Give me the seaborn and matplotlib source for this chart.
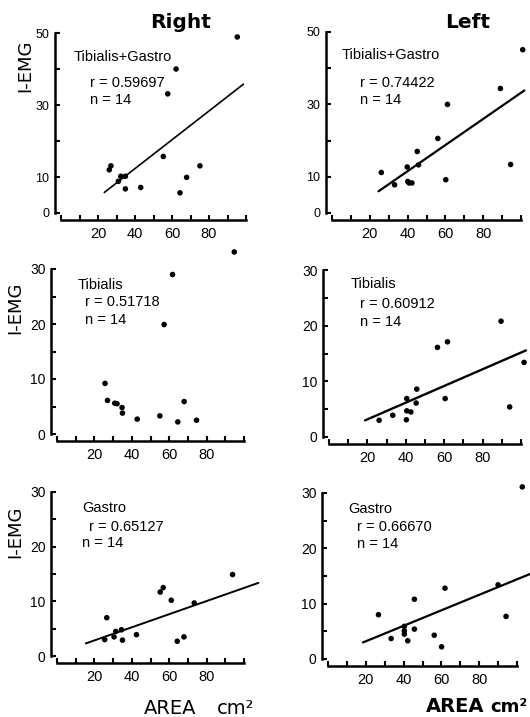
import matplotlib
matplotlib.use("Agg")
import matplotlib.pyplot as plt
import seaborn as sns

sns.set_theme(style="ticks")
plt.rcParams["font.family"] = ["Liberation Sans", "DejaVu Sans"]
plt.rcParams["text.color"] = "black"
plt.rcParams["axes.labelcolor"] = "black"
plt.rcParams["xtick.color"] = "black"
plt.rcParams["ytick.color"] = "black"

# ---- data: muscle cross-sectional area (cm^2) vs integrated EMG ----
right_tg_area = [95.3, 62.2, 57.7, 55.3, 75.1, 67.9, 64.3, 27.0, 26.1, 32.3, 34.8, 31.0, 34.8, 43.1]
right_tg_emg = [48.9, 40.0, 33.1, 15.7, 13.1, 9.9, 5.6, 13.1, 12.0, 10.2, 10.2, 8.8, 6.7, 7.1]

left_tg_area = [100.9, 89.1, 61.1, 56.0, 45.1, 45.8, 39.8, 26.1, 33.1, 40.1, 40.8, 42.3, 60.2, 94.5]
left_tg_emg = [45.1, 34.4, 30.0, 20.6, 17.0, 13.3, 12.7, 11.2, 7.8, 8.7, 8.3, 8.3, 9.2, 13.4]

right_tib_area = [94.8, 61.8, 57.3, 25.7, 27.0, 30.9, 32.1, 34.8, 35.0, 42.9, 55.0, 64.6, 68.0, 74.6]
right_tib_emg = [33.1, 29.0, 19.9, 9.2, 6.1, 5.6, 5.5, 4.8, 3.8, 2.7, 3.3, 2.2, 5.9, 2.5]

left_tib_area = [89.6, 101.6, 56.5, 61.7, 45.7, 40.5, 45.4, 60.5, 26.1, 33.2, 40.5, 42.6, 40.3, 94.1]
left_tib_emg = [20.8, 13.4, 16.1, 17.1, 8.6, 6.9, 6.1, 6.9, 3.0, 3.9, 4.7, 4.5, 3.1, 5.4]

right_gas_area = [93.9, 55.2, 56.8, 61.1, 73.4, 26.6, 25.5, 30.5, 31.4, 34.5, 35.0, 42.5, 64.3, 67.9]
right_gas_emg = [14.9, 11.7, 12.5, 10.2, 9.7, 7.0, 3.0, 3.5, 4.5, 4.8, 2.9, 3.9, 2.7, 3.5]

left_gas_area = [102.8, 90.0, 94.2, 61.9, 45.7, 26.7, 45.7, 40.4, 40.4, 40.4, 33.4, 42.2, 56.2, 60.1]
left_gas_emg = [31.1, 13.4, 7.7, 12.8, 10.8, 8.0, 5.4, 5.9, 5.1, 4.5, 3.7, 3.3, 4.3, 2.2]

# regression lines: (slope, intercept, x start, x end); None = no line drawn
right_tg_fit = (0.400, -3.66, 23.4, 98.6)
left_tg_fit = (0.361, -2.89, 24.6, 101.8)
right_tib_fit = None
left_tib_fit = (0.150, 0.17, 18.8, 102.6)
right_gas_fit = (0.120, 0.45, 15.4, 107.7)
left_gas_fit = (0.140, 0.40, 18.5, 107.6)

muscles = ["Tibialis+Gastro", "Tibialis+Gastro", "Tibialis", "Tibialis", "Gastro", "Gastro"]
r_values = ["0.59697", "0.74422", "0.51718", "0.60912", "0.65127", "0.66670"]
n_values = [14, 14, 14, 14, 14, 14]

x_ticks = [0, 10, 20, 30, 40, 50, 60, 70, 80, 90, 100]
x_tick_labels = ["", "", "20", "", "40", "", "60", "", "80", "", ""]
y_ticks_big = [0, 10, 20, 30, 40, 50]
y_tick_labels_big = ["0", "10", "", "30", "", "50"]
y_ticks_small = [0, 5, 10, 15, 20, 25, 30]
y_tick_labels_small = ["0", "", "10", "", "20", "", "30"]

W, H = 530, 717
fig = plt.figure(figsize=(W / 100, H / 100), dpi=100, facecolor="white")


def px_axes(x0, x1, y0, ytop):
    """Axes whose data box spans the given pixel extents (top-left origin)."""
    return fig.add_axes([x0 / W, 1 - y0 / H, (x1 - x0) / W, (y0 - ytop) / H])


panels = [
    dict(box=(61, 246, 213, 33), ymax=50, area=right_tg_area, emg=right_tg_emg, fit=right_tg_fit,
         text_xy=[(7.0, 43.3), (15.7, 36.1), (15.7, 31.4)], lw=1.2),
    dict(box=(332, 521, 213, 32), ymax=50, area=left_tg_area, emg=left_tg_emg, fit=left_tg_fit,
         text_xy=[(5.3, 43.6), (14.8, 36.0), (14.8, 31.2)], lw=1.6),
    dict(box=(57, 244, 434, 269), ymax=30, area=right_tib_area, emg=right_tib_emg, fit=right_tib_fit,
         text_xy=[(11.1, 27.1), (14.8, 24.0), (14.8, 20.8)], lw=1.4),
    dict(box=(329, 521, 437, 270), ymax=30, area=left_tib_area, emg=left_tib_emg, fit=left_tib_fit,
         text_xy=[(11.5, 27.4), (16.2, 23.9), (16.2, 20.7)], lw=1.7),
    dict(box=(57, 244, 656, 492), ymax=30, area=right_gas_area, emg=right_gas_emg, fit=right_gas_fit,
         text_xy=[(13.4, 27.0), (17.1, 23.6), (13.6, 20.6)], lw=1.4),
    dict(box=(328, 517, 659, 493), ymax=30, area=left_gas_area, emg=left_gas_emg, fit=left_gas_fit,
         text_xy=[(10.5, 27.1), (15.3, 23.8), (15.3, 20.8)], lw=1.6),
]

for i, p in enumerate(panels):
    ax = px_axes(*p["box"])
    ax.set_facecolor("none")
    ax.set_xlim(0, 100)
    ax.set_ylim(0, p["ymax"])

    sns.scatterplot(x=p["area"], y=p["emg"], ax=ax, color="black", s=16,
                    edgecolor="none", clip_on=False, zorder=3)

    if p["fit"] is not None:
        slope, icpt, xa, xb = p["fit"]
        xs = [xa, xb]
        ys = [slope * xa + icpt, slope * xb + icpt]
        sns.lineplot(x=xs, y=ys, ax=ax, color="black", linewidth=p["lw"],
                     clip_on=False, zorder=2)

    ax.set_xlabel("")
    ax.set_ylabel("")

    # detached axes: spines pushed outward, ticks pointing in
    for side in ("top", "right"):
        ax.spines[side].set_visible(False)
    ax.spines["left"].set_position(("outward", 4.3))
    ax.spines["bottom"].set_position(("outward", 5.0))
    ax.spines["left"].set_bounds(0, p["ymax"])
    ax.spines["bottom"].set_bounds(0, 100)
    for side in ("left", "bottom"):
        ax.spines[side].set_linewidth(1.8)
        ax.spines[side].set_color("black")

    ax.set_xticks(x_ticks)
    ax.set_xticklabels(x_tick_labels)
    if p["ymax"] == 50:
        ax.set_yticks(y_ticks_big)
        ax.set_yticklabels(y_tick_labels_big)
    else:
        ax.set_yticks(y_ticks_small)
        ax.set_yticklabels(y_tick_labels_small)
    ax.tick_params(axis="both", direction="in", length=3.5, width=1.5, color="black",
                   labelcolor="black")
    ax.tick_params(axis="x", labelsize=10.5, pad=5)
    ax.tick_params(axis="y", labelsize=10 if p["ymax"] == 30 else 9, pad=4)

    (tx0, ty0), (tx1, ty1), (tx2, ty2) = p["text_xy"]
    ax.text(tx0, ty0, muscles[i], fontsize=10.5, ha="left", va="center", color="black")
    ax.text(tx1, ty1, f"r = {r_values[i]}", fontsize=10.5, ha="left", va="center",
            color="black")
    ax.text(tx2, ty2, f"n = {n_values[i]}", fontsize=10.5, ha="left", va="center",
            color="black")


def ftext(xp, yp, s, **kw):
    fig.text(xp / W, 1 - yp / H, s, color="black", **kw)


# column headings
ftext(181, 22, "Right", fontsize=14.5, fontweight="bold", family="DejaVu Sans",
      ha="center", va="center")
ftext(468, 23, "Left", fontsize=14.5, fontweight="bold", family="DejaVu Sans",
      ha="center", va="center")

# y-axis titles
for xp, yp in [(25, 66), (15, 308), (15, 532)]:
    ftext(xp, yp, "I-EMG", fontsize=13, family="DejaVu Sans", rotation=90,
          ha="center", va="center")

# x-axis titles
ftext(144, 709, "AREA", fontsize=14, family="DejaVu Sans", ha="left", va="center")
ftext(217, 709, "cm²", fontsize=14, family="DejaVu Sans", ha="left", va="center")
ftext(426, 707, "AREA", fontsize=14, fontweight="bold", family="DejaVu Sans",
      ha="left", va="center")
ftext(490, 707, "cm²", fontsize=13, fontweight="bold", family="DejaVu Sans",
      ha="left", va="center")

fig.savefig("out.png", dpi=100, facecolor="white")
